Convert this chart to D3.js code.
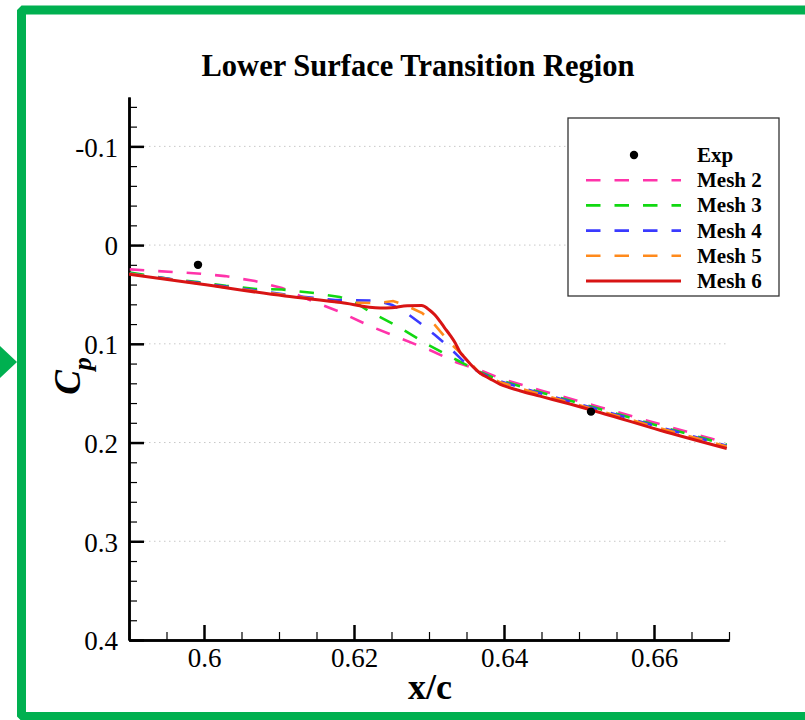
<!DOCTYPE html>
<html>
<head>
<meta charset="utf-8">
<script src="https://cdn.jsdelivr.net/npm/d3@7"></script>
<style>
  html, body { margin: 0; padding: 0; background: #fff; }
  svg { display: block; }
  text { font-family: "Liberation Serif", "Times New Roman", serif; fill: #000; }
</style>
</head>
<body>
<svg id="chart" width="805" height="720"></svg>
<script>
// ---- data -------------------------------------------------------------
const mesh2X  = [0.5901, 0.5991, 0.6028, 0.6068, 0.6104, 0.6141, 0.6181, 0.6221, 0.6261, 0.6301, 0.6337, 0.6368, 0.6395, 0.6448, 0.6528, 0.6608, 0.6697];
const mesh2Cp = [0.0246, 0.0287, 0.0314, 0.0364, 0.0435, 0.0557, 0.0675, 0.0820, 0.0941, 0.1063, 0.1190, 0.1265, 0.1350, 0.1470, 0.1642, 0.1814, 0.2005];

const mesh3X  = [0.5901, 0.5955, 0.5992, 0.6029, 0.6069, 0.6104, 0.6144, 0.6181, 0.6201, 0.6221, 0.6259, 0.6297, 0.6337, 0.6368, 0.6395, 0.6448, 0.6528, 0.6608, 0.6697];
const mesh3Cp = [0.0278, 0.0344, 0.0375, 0.0412, 0.0445, 0.0450, 0.0483, 0.0526, 0.0577, 0.0675, 0.0827, 0.1002, 0.1164, 0.1285, 0.1370, 0.1490, 0.1660, 0.1835, 0.2022];

const mesh4X  = [0.5901, 0.6024, 0.6128, 0.6175, 0.6231, 0.6251, 0.6268, 0.6288, 0.6308, 0.6328, 0.6345, 0.6368, 0.6395, 0.6448, 0.6528, 0.6608, 0.6697];
const mesh4Cp = [0.0288, 0.0415, 0.0521, 0.0557, 0.0562, 0.0607, 0.0678, 0.0789, 0.0911, 0.1043, 0.1170, 0.1295, 0.1380, 0.1500, 0.1670, 0.1845, 0.2032];

const mesh5X  = [0.5901, 0.6024, 0.6128, 0.6181, 0.6232, 0.6252, 0.6268, 0.6291, 0.6308, 0.6328, 0.6345, 0.6368, 0.6395, 0.6448, 0.6528, 0.6608, 0.6697];
const mesh5Cp = [0.0291, 0.0423, 0.0526, 0.0582, 0.0587, 0.0567, 0.0607, 0.0688, 0.0810, 0.0992, 0.1113, 0.1300, 0.1390, 0.1510, 0.1680, 0.1855, 0.2040];

const mesh6X  = [0.5899, 0.5995, 0.6108, 0.6181, 0.6235, 0.6250, 0.6271, 0.6290, 0.6301, 0.6308, 0.6315, 0.6321, 0.6328, 0.6335, 0.6341, 0.6348, 0.6355, 0.6368, 0.6381, 0.6395, 0.6408, 0.6421, 0.6448, 0.6488, 0.6528, 0.6608, 0.6697];
const mesh6Cp = [0.0294, 0.0395, 0.0516, 0.0580, 0.0638, 0.0635, 0.0614, 0.0612, 0.0660, 0.0709, 0.0776, 0.0840, 0.0911, 0.0992, 0.1080, 0.1144, 0.1204, 0.1296, 0.1352, 0.1410, 0.1445, 0.1475, 0.1530, 0.1610, 0.1695, 0.1875, 0.2060];

const expX  = [0.5992, 0.6516];
const expCp = [0.0200, 0.1687];

const xMajorTicks = [0.60, 0.62, 0.64, 0.66];
const xTickLabels = ["0.6", "0.62", "0.64", "0.66"];
const yMajorTicks = [-0.1, 0, 0.1, 0.2, 0.3, 0.4];
const yTickLabels = ["-0.1", "0", "0.1", "0.2", "0.3", "0.4"];
const gridLevels  = [-0.1, 0, 0.1, 0.2, 0.3];

const seriesNames  = ["Mesh 2", "Mesh 3", "Mesh 4", "Mesh 5", "Mesh 6"];
const seriesColors = ["#ff33aa", "#11d811", "#3a3aff", "#ff8a1c", "#d81414"];

// ---- layout -----------------------------------------------------------
const svg = d3.select("#chart");
const plot = { left: 129, right: 729, top: 97, bottom: 640 };

const x = d3.scaleLinear().domain([0.59, 0.67]).range([plot.left, plot.right]);
const y = d3.scaleLinear().domain([-0.15, 0.4]).range([plot.top, plot.bottom]);

// green frame with arrow marker at left
svg.append("path")
  .attr("d", "M810,716.5 L21.5,716.5 L21.5,10 L810,10")
  .attr("fill", "none")
  .attr("stroke", "#00b050")
  .attr("stroke-width", 9)
  .attr("stroke-linejoin", "bevel");
svg.append("path")
  .attr("d", "M0,346 L17,362 L0,378 Z")
  .attr("fill", "#00b050");

// title
svg.append("text")
  .attr("x", 418).attr("y", 76)
  .attr("text-anchor", "middle")
  .style("font-size", "30.5px").style("font-weight", "bold")
  .text("Lower Surface Transition Region");

// horizontal dotted grid
svg.append("g").selectAll("line").data(gridLevels).join("line")
  .attr("x1", plot.left).attr("x2", plot.right)
  .attr("y1", d => y(d)).attr("y2", d => y(d))
  .attr("stroke", "#c8c8c8").attr("stroke-width", 1)
  .attr("stroke-dasharray", "1.5,3.5");

// minor ticks
const xMinor = d3.range(0.590, 0.6701, 0.005).filter(v => !xMajorTicks.some(m => Math.abs(m - v) < 1e-6));
const yMinor = d3.range(-0.14, 0.3801, 0.02).filter(v => !yMajorTicks.some(m => Math.abs(m - v) < 1e-6));

const xAxisMinor = d3.axisBottom(x).tickValues(xMinor).tickSizeInner(-8).tickSizeOuter(0).tickFormat("");
const yAxisMinor = d3.axisLeft(y).tickValues(yMinor).tickSizeInner(-8).tickSizeOuter(0).tickFormat("");
const xAxis = d3.axisBottom(x).tickValues(xMajorTicks).tickSizeInner(-15).tickSizeOuter(0).tickPadding(20)
  .tickFormat((d, i) => xTickLabels[i]);
const yAxis = d3.axisLeft(y).tickValues(yMajorTicks).tickSizeInner(-15).tickSizeOuter(0).tickPadding(26)
  .tickFormat((d, i) => yTickLabels[i]);

function styleAxis(g) {
  g.select(".domain").attr("stroke", "#000").attr("stroke-width", 2.5);
  g.selectAll(".tick line").attr("stroke", "#000");
  g.selectAll("text").style("font-size", "27px").attr("fill", "#000")
    .style("font-family", "'Liberation Serif', 'Times New Roman', serif");
}

svg.append("g").attr("transform", `translate(0,${plot.bottom})`).call(xAxisMinor).call(styleAxis)
  .selectAll(".tick line").attr("stroke-width", 1.2);
svg.append("g").attr("transform", `translate(${plot.left},0)`).call(yAxisMinor).call(styleAxis)
  .selectAll(".tick line").attr("stroke-width", 1.2);
const gx = svg.append("g").attr("transform", `translate(0,${plot.bottom})`).call(xAxis).call(styleAxis);
gx.selectAll(".tick line").attr("stroke-width", 2.5);
gx.selectAll(".tick text").attr("dy", "0.71em").attr("y", 8);
const gy = svg.append("g").attr("transform", `translate(${plot.left},0)`).call(yAxis).call(styleAxis);
gy.selectAll(".tick line").attr("stroke-width", 2.5);
gy.selectAll(".tick text").attr("x", -11).attr("dy", "0.36em");

// axis titles
svg.append("text")
  .attr("x", 430).attr("y", 699)
  .attr("text-anchor", "middle")
  .style("font-size", "36px").style("font-weight", "bold")
  .text("x/c");

const cp = svg.append("text")
  .attr("transform", "translate(80,376) rotate(-90)")
  .attr("text-anchor", "middle")
  .style("font-weight", "bold").style("font-style", "italic");
cp.append("tspan").style("font-size", "37px").text("C");
cp.append("tspan").attr("dy", 11).style("font-size", "26px").text("p");

// ---- curves -----------------------------------------------------------
svg.append("clipPath").attr("id", "plot-clip")
  .append("rect")
  .attr("x", plot.left).attr("y", plot.top)
  .attr("width", plot.right - plot.left + 2).attr("height", plot.bottom - plot.top);

const series = [
  { xs: mesh2X, ys: mesh2Cp },
  { xs: mesh3X, ys: mesh3Cp },
  { xs: mesh4X, ys: mesh4Cp },
  { xs: mesh5X, ys: mesh5Cp },
  { xs: mesh6X, ys: mesh6Cp }
];

const lineLin = d3.line().x(d => x(d[0])).y(d => y(d[1]));
const lineSmooth = d3.line().x(d => x(d[0])).y(d => y(d[1])).curve(d3.curveMonotoneX);

const curves = svg.append("g").attr("clip-path", "url(#plot-clip)");
series.forEach((s, i) => {
  const pts = s.xs.map((v, k) => [v, s.ys[k]]);
  const solid = i === series.length - 1;
  curves.append("path")
    .datum(pts)
    .attr("d", solid ? lineSmooth : lineLin)
    .attr("fill", "none")
    .attr("stroke", seriesColors[i])
    .attr("stroke-width", solid ? 3 : 2.6)
    .attr("stroke-dasharray", solid ? null : "14.5,14");
});

curves.selectAll("circle.exp").data(expX.map((v, k) => [v, expCp[k]])).join("circle")
  .attr("class", "exp")
  .attr("cx", d => x(d[0])).attr("cy", d => y(d[1]))
  .attr("r", 4.2).attr("fill", "#000");

// ---- legend -----------------------------------------------------------
const legend = svg.append("g");
legend.append("rect")
  .attr("x", 568).attr("y", 118).attr("width", 211).attr("height", 178)
  .attr("fill", "#fff").attr("stroke", "#333").attr("stroke-width", 1.3);

const rowY = d3.scaleLinear().domain([0, 5]).range([155, 281]);
legend.append("circle").attr("cx", 634).attr("cy", rowY(0)).attr("r", 4.2).attr("fill", "#000");
legend.append("text").attr("x", 697).attr("y", rowY(0) + 7)
  .style("font-size", "21px").style("font-weight", "bold").text("Exp");

seriesNames.forEach((name, i) => {
  const yy = rowY(i + 1);
  const solid = i === seriesNames.length - 1;
  legend.append("line")
    .attr("x1", 586).attr("x2", 681).attr("y1", yy).attr("y2", yy)
    .attr("stroke", seriesColors[i]).attr("stroke-width", solid ? 3 : 2.6)
    .attr("stroke-dasharray", solid ? null : "14.5,14");
  legend.append("text").attr("x", 697).attr("y", yy + 7)
    .style("font-size", "21px").style("font-weight", "bold").text(name);
});
</script>
</body>
</html>
